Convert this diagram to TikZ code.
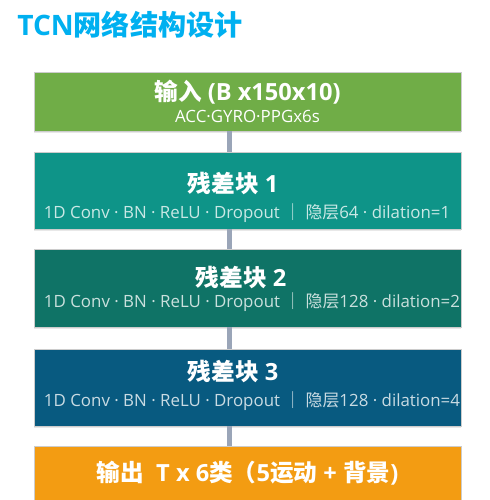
\documentclass[tikz,border=0pt]{standalone}
\usepackage{fontspec}
\setmainfont{Open Sans}
\newfontfamily\cjk{Noto Sans CJK SC}
\usetikzlibrary{shadows}

\definecolor{titleblue}{RGB}{0,176,240}
\definecolor{inGreen}{RGB}{112,173,71}
\definecolor{resA}{RGB}{14,148,136}
\definecolor{resB}{RGB}{15,115,102}
\definecolor{resC}{RGB}{8,90,128}
\definecolor{outOrange}{RGB}{243,156,18}
\definecolor{linkgray}{RGB}{154,165,184}

\begin{document}
\begin{tikzpicture}[x=0.025cm,y=-0.025cm,
        block/.style={draw=white!80!black,line width=0.3pt,inner sep=0pt,
            minimum width=10.675cm,
            drop shadow={shadow xshift=0pt,shadow yshift=-1.2pt,opacity=0.18}},
        head/.style={text=white,inner sep=0pt,font=\fontsize{16.8}{19}\selectfont\bfseries},
        sub/.style={inner sep=0pt,font=\fontsize{12}{15}\selectfont},
        link/.style={linkgray,line width=3.6pt},
    ]
    \useasboundingbox[fill=white] (0,0) rectangle (489,500);

    \node[anchor=west,inner sep=0pt,text=titleblue,
        font=\fontsize{20}{24}\selectfont\bfseries] (title) at (17,25) {TCN{\cjk 网络结构设计}};

    % boxes
    \node[block,fill=inGreen,minimum height=1.475cm] (in) at (247.5,101.5) {};
    \node[block,fill=resA,minimum height=1.925cm] (res1) at (247.5,190.5) {};
    \node[block,fill=resB,minimum height=1.95cm] (res2) at (247.5,288) {};
    \node[block,fill=resC,minimum height=1.925cm] (res3) at (247.5,387.5) {};
    \node[block,fill=outOrange,minimum height=1.35cm] (out) at (247.5,473) {};

    % connectors
    \coordinate (axis) at (229.5,0);
    \foreach \a/\b in {in/res1,res1/res2,res2/res3,res3/out}
        \draw[link] (axis |- \a.south) -- (axis |- \b.north);

    % texts
    \node[head] (inT) at (247.5,92) {{\cjk 输入} (B x150x10)};
    \node[sub,text=white,font=\fontsize{12}{14}\selectfont] (inS) at (247.5,116) {ACC·GYRO·PPGx6s};

    \node[head] (res1T) at (233,183) {{\cjk 残差块} 1};
    \node[sub,text=white!78!resA] (res1S) at (247,213) {1D Conv · BN · ReLU · Dropout {\cjk ｜} {\cjk 隐层}64 · dilation=1};

    \node[head] (res2T) at (241,277) {{\cjk 残差块} 2};
    \node[sub,text=white!78!resB] (res2S) at (252,302) {1D Conv · BN · ReLU · Dropout {\cjk ｜} {\cjk 隐层}128 · dilation=2};

    \node[head] (res3T) at (233,371) {{\cjk 残差块} 3};
    \node[sub,text=white!78!resC] (res3S) at (252,401) {1D Conv · BN · ReLU · Dropout {\cjk ｜} {\cjk 隐层}128 · dilation=4};

    \node[head] (outT) at (247.5,473) {{\cjk 输出}\ \ T x 6{\cjk 类（}5{\cjk 运动} + {\cjk 背景})};
\end{tikzpicture}
\end{document}
